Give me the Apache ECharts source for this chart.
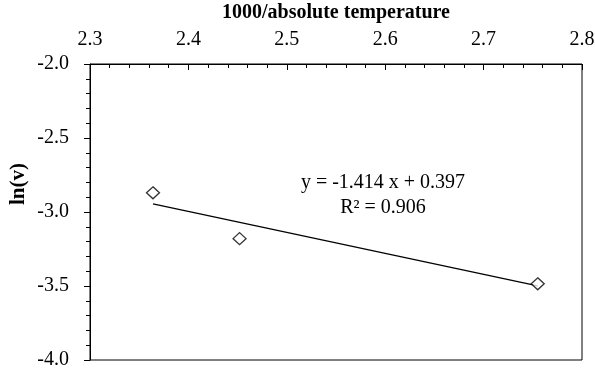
<!DOCTYPE html>
<html>
<head>
<meta charset="utf-8">
<script src="https://cdn.jsdelivr.net/npm/echarts@6/dist/echarts.min.js"></script>
<style>
  html, body { margin: 0; padding: 0; background: #fff; }
  #chart { width: 595px; height: 376px; }
</style>
</head>
<body>
<div id="chart"></div>
<script>
// measured points: 1000/T vs ln(v)
var invTemp = [2.364, 2.452, 2.755];
var lnV = [-2.87, -3.18, -3.485];

// linear trendline from the chart label
var slope = -1.414;
var intercept = 0.397;
var eqText = ['y = -1.414 x + 0.397', 'R² = 0.906'];

var font = '"Liberation Serif", "Times New Roman", serif';

var points = invTemp.map(function (x, i) { return [x, lnV[i]]; });
var xLo = Math.min.apply(null, invTemp);
var xHi = Math.max.apply(null, invTemp);
var trend = [[xLo, slope * xLo + intercept], [xHi, slope * xHi + intercept]];

var chart = echarts.init(document.getElementById('chart'), null, { renderer: 'canvas' });

chart.setOption({
  backgroundColor: '#fff',
  animation: false,
  grid: {
    left: 90, top: 64, right: 13, bottom: 16,
    outerBoundsMode: 'none', containLabel: false,
    show: true, borderColor: '#000', borderWidth: 1, backgroundColor: 'transparent'
  },
  xAxis: {
    type: 'value', position: 'top',
    min: 2.3, max: 2.8, interval: 0.1,
    name: '1000/absolute temperature',
    nameLocation: 'middle', nameGap: 41,
    nameTextStyle: { fontFamily: font, fontWeight: 'bold', fontSize: 20, color: '#000' },
    axisLine: { show: true, lineStyle: { color: '#000', width: 1 } },
    axisTick: { show: true, inside: true, length: 6, lineStyle: { color: '#000' } },
    minorTick: { show: true, splitNumber: 5, length: 4, lineStyle: { color: '#000' } },
    axisLabel: {
      margin: 14, fontFamily: font, fontSize: 20, color: '#000',
      formatter: function (v) { return v.toFixed(1); }
    },
    splitLine: { show: false }
  },
  yAxis: {
    type: 'value',
    min: -4, max: -2, interval: 0.5,
    axisLine: { show: true, lineStyle: { color: '#000', width: 1 } },
    axisTick: { show: true, inside: false, length: 6, lineStyle: { color: '#000' } },
    minorTick: { show: true, splitNumber: 5, length: 4, lineStyle: { color: '#000' } },
    axisLabel: {
      margin: 21, fontFamily: font, fontSize: 20, color: '#000',
      formatter: function (v) { return v.toFixed(1); }
    },
    splitLine: { show: false }
  },
  graphic: [{
    type: 'text', left: 8, top: 163, rotation: Math.PI / 2,
    style: { text: 'ln(v)', font: 'bold 21px ' + font, fill: '#000' }
  }, {
    type: 'text', x: 383, y: 195,
    style: {
      text: eqText.join('\n'), font: '20px ' + font, fill: '#000',
      align: 'center', verticalAlign: 'middle', lineHeight: 25
    }
  }],
  series: [{
    type: 'line', data: trend, showSymbol: false, silent: true,
    lineStyle: { color: '#000', width: 1.3 }, z: 1
  }, {
    type: 'scatter', data: points, symbol: 'diamond', symbolSize: [13, 12],
    itemStyle: { color: '#fff', borderColor: '#000', borderWidth: 1.3 }, z: 2
  }]
});
</script>
</body>
</html>
